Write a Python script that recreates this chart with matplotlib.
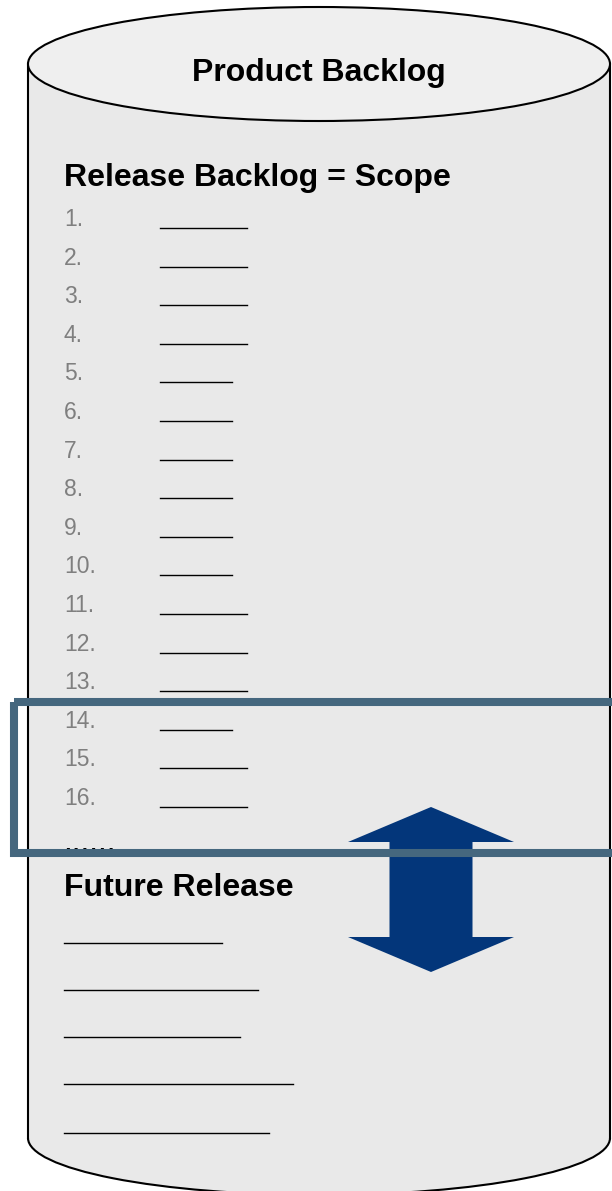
import matplotlib
matplotlib.use("Agg")
import matplotlib.pyplot as plt
from matplotlib.patches import Rectangle, Ellipse, Arc, Polygon

# ---- data ----
title = "Product Backlog"
release_heading = "Release Backlog = Scope"
future_heading = "Future Release"
item_numbers = [f"{i}." for i in range(1, 17)]
item_line_ends = [247, 247, 247, 247, 232, 232, 232, 232, 232, 232,
                  247, 247, 247, 232, 247, 247]
future_line_ends = [222, 258, 240, 293, 269]
future_line_y = [943, 990, 1037, 1084, 1133]

W, H = 612, 1191
fig = plt.figure(figsize=(W / 100, H / 100), dpi=100)
ax = fig.add_axes([0, 0, 1, 1])
ax.set_xlim(0, W)
ax.set_ylim(H, 0)
ax.axis("off")

FONT = ["Liberation Sans", "DejaVu Sans"]
body_fill = "#e9e9e9"
top_fill = "#efefef"

# ---- cylinder ----
cx, left, right = 319, 28, 610
wid = right - left
top_cy, ell_h = 64, 114
bot_cy = 1138
ax.add_patch(Rectangle((left, top_cy), wid, bot_cy - top_cy, facecolor=body_fill,
                       edgecolor="none", zorder=1))
ax.add_patch(Ellipse((cx, bot_cy), wid, ell_h, facecolor=body_fill, edgecolor="none", zorder=1))
ax.add_patch(Arc((cx, bot_cy), wid, ell_h, theta1=0, theta2=180, color="black", lw=1.5, zorder=2))
ax.plot([left, left], [top_cy, bot_cy], color="black", lw=1.5, zorder=2)
ax.plot([right, right], [top_cy, bot_cy], color="black", lw=1.5, zorder=2)
ax.add_patch(Ellipse((cx, top_cy), wid, ell_h, facecolor=top_fill, edgecolor="black", lw=1.5, zorder=3))

# ---- headings ----
ax.text(cx, 73, title, fontsize=23, fontweight="bold", family=FONT,
        ha="center", va="center", zorder=4)
ax.text(64, 178, release_heading, fontsize=23, fontweight="bold", family=FONT,
        ha="left", va="center", zorder=4)
ax.text(64, 888, future_heading, fontsize=23, fontweight="bold", family=FONT,
        ha="left", va="center", zorder=4)

# ---- release items ----
y0, dy = 219.5, 38.6
for i, (num, xe) in enumerate(zip(item_numbers, item_line_ends)):
    y = y0 + i * dy
    ax.text(64, y, num, fontsize=16.5, family=FONT, color="#7f7f7f",
            ha="left", va="center", zorder=4)
    ax.plot([160, xe], [y + 8.5, y + 8.5], color="black", lw=1.0, zorder=4)

ax.text(63, 851, "......", fontsize=23, family=FONT, color="black",
        ha="left", va="baseline", zorder=4)

# ---- future release lines ----
for y, xe in zip(future_line_y, future_line_ends):
    ax.plot([64, xe], [y, y], color="black", lw=1.0, zorder=4)

# ---- double arrow ----
ax_c = 431
tip_top, head_top_base = 807, 842
tip_bot, head_bot_base = 972, 937
head_half, shaft_half = 83, 41.5
arrow_pts = [
    (ax_c, tip_top), (ax_c + head_half, head_top_base), (ax_c + shaft_half, head_top_base),
    (ax_c + shaft_half, head_bot_base), (ax_c + head_half, head_bot_base), (ax_c, tip_bot),
    (ax_c - head_half, head_bot_base), (ax_c - shaft_half, head_bot_base),
    (ax_c - shaft_half, head_top_base), (ax_c - head_half, head_top_base),
]
ax.add_patch(Polygon(arrow_pts, closed=True, facecolor="#03367a", edgecolor="none", zorder=5))

# ---- highlight rectangle ----
ax.add_patch(Rectangle((14, 702), 620, 151, facecolor="none", edgecolor="#45677e",
                       lw=5.8, zorder=6, joinstyle="miter"))

fig.savefig("out.png", dpi=100)
